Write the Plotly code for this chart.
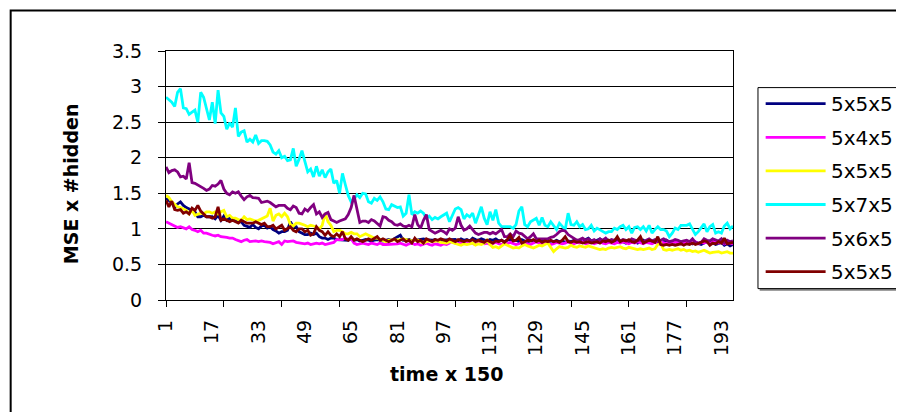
import plotly.graph_objects as go

# ---------------- data ----------------
time_steps = list(range(1, 198))
series_names = ["5x5x5", "5x4x5", "5x5x5", "5x7x5", "5x6x5", "5x5x5"]
series_colors = ["#000080", "#FF00FF", "#FFFF00", "#00FFFF", "#800080", "#800000"]

navy_555 = [
    1.43, 1.40, 1.37, 1.30, 1.35, 1.38, 1.33, 1.30, 1.28, 1.27,
    1.24, 1.17, 1.17, 1.19, 1.17, 1.17, 1.17, 1.14, 1.19, 1.12,
    1.18, 1.12, 1.15, 1.13, 1.12, 1.09, 1.10, 1.05, 1.03, 1.02,
    1.06, 1.02, 1.00, 1.04, 1.05, 1.01, 1.03, 0.99, 0.97, 0.94,
    0.96, 0.96, 0.98, 1.10, 1.03, 1.03, 0.96, 0.94, 0.92, 0.92,
    0.94, 0.92, 0.94, 0.89, 0.87, 0.87, 0.85, 0.87, 0.87, 0.85,
    0.85, 0.84, 0.85, 0.84, 0.86, 0.84, 0.85, 0.83, 0.84, 0.85,
    0.84, 0.83, 0.84, 0.85, 0.84, 0.83, 0.84, 0.85, 0.84, 0.86,
    0.88, 0.91, 0.84, 0.84, 0.85, 0.83, 0.84, 0.84, 0.85, 0.86,
    0.85, 0.84, 0.84, 0.85, 0.83, 0.84, 0.84, 0.85, 0.84,
    0.84, 0.85, 0.83, 0.86, 0.84, 0.85, 0.83, 0.87, 0.85, 0.84,
    0.86, 0.84, 0.83, 0.85, 0.84, 0.86, 0.83, 0.84, 0.82, 0.84,
    0.85, 0.83, 0.84, 0.82, 0.85, 0.83, 0.81, 0.84, 0.82, 0.83,
    0.82, 0.84, 0.83, 0.81, 0.83, 0.82, 0.84, 0.82, 0.83, 0.81,
    0.83, 0.82, 0.84, 0.82, 0.81, 0.83, 0.85, 0.87, 0.83, 0.82,
    0.84, 0.86, 0.82, 0.83, 0.81, 0.82, 0.84, 0.83, 0.81, 0.82,
    0.80, 0.82, 0.81, 0.83, 0.80, 0.82, 0.84, 0.81, 0.83, 0.80,
    0.82, 0.81, 0.79, 0.82, 0.84, 0.81, 0.80, 0.82, 0.80, 0.79,
    0.81, 0.80, 0.82, 0.79, 0.81, 0.80, 0.78, 0.80, 0.82, 0.79,
    0.80, 0.78, 0.79, 0.81, 0.77, 0.79, 0.76, 0.78,
]

magenta_545 = [
    1.10, 1.08, 1.06, 1.04, 1.02, 1.03, 1.02, 1.00, 1.03, 0.99,
    0.98, 0.96, 0.98, 0.94, 0.94, 0.92, 0.91, 0.90, 0.91, 0.89,
    0.89, 0.88, 0.87, 0.87, 0.85, 0.84, 0.82, 0.84, 0.85, 0.82,
    0.83, 0.83, 0.82, 0.83, 0.82, 0.82, 0.81, 0.79, 0.80, 0.82,
    0.78, 0.83, 0.82, 0.82, 0.83, 0.81, 0.80, 0.79, 0.79, 0.80,
    0.78, 0.79, 0.80, 0.79, 0.80, 0.78, 0.79, 0.79, 0.81, 0.85,
    0.85, 0.85, 0.87, 0.85, 0.86, 0.80, 0.78, 0.79, 0.80, 0.79,
    0.78, 0.80, 0.79, 0.78, 0.80, 0.78, 0.78, 0.78, 0.79, 0.78,
    0.79, 0.80, 0.78, 0.77, 0.79, 0.80, 0.78, 0.79, 0.77, 0.78,
    0.80, 0.78, 0.77, 0.79, 0.78, 0.77, 0.79, 0.78, 0.80,
    0.83, 0.80, 0.79, 0.81, 0.80, 0.79, 0.81, 0.80, 0.78, 0.80,
    0.81, 0.79, 0.80, 0.78, 0.80, 0.81, 0.79, 0.78, 0.80, 0.79,
    0.81, 0.80, 0.78, 0.79, 0.81, 0.80, 0.79, 0.78, 0.80, 0.82,
    0.80, 0.79, 0.81, 0.80, 0.78, 0.79, 0.81, 0.80, 0.79, 0.80,
    0.82, 0.80, 0.79, 0.81, 0.80, 0.82, 0.79, 0.80, 0.81, 0.79,
    0.80, 0.82, 0.80, 0.79, 0.81, 0.80, 0.79, 0.81, 0.80, 0.82,
    0.80, 0.79, 0.81, 0.80, 0.82, 0.80, 0.79, 0.81, 0.80, 0.79,
    0.81, 0.80, 0.82, 0.80, 0.79, 0.81, 0.80, 0.82, 0.81, 0.79,
    0.80, 0.82, 0.81, 0.80, 0.82, 0.79, 0.81, 0.80, 0.82, 0.80,
    0.85, 0.81, 0.80, 0.82, 0.79, 0.81, 0.80, 0.79,
]

yellow_555 = [
    1.47, 1.44, 1.38, 1.35, 1.31, 1.30, 1.28, 1.26, 1.21, 1.26,
    1.19, 1.21, 1.22, 1.21, 1.24, 1.24, 1.22, 1.24, 1.21, 1.24,
    1.26, 1.17, 1.19, 1.15, 1.15, 1.13, 1.12, 1.17, 1.13, 1.14,
    1.12, 1.11, 1.12, 1.14, 1.17, 1.18, 1.29, 1.11, 1.19, 1.21,
    1.17, 1.22, 1.17, 1.06, 1.04, 1.08, 1.08, 1.07, 1.05, 1.03,
    1.05, 1.04, 1.03, 1.00, 1.05, 1.22, 1.10, 1.05, 0.96, 0.98,
    0.98, 0.96, 0.93, 0.93, 0.95, 0.93, 0.93, 0.89, 0.91, 0.93,
    0.91, 0.89, 0.87, 0.87, 0.85, 0.84, 0.82, 0.84, 0.84, 0.84,
    0.84, 0.85, 0.86, 0.85, 0.84, 0.83, 0.84, 0.84, 0.82, 0.80,
    0.82, 0.83, 0.82, 0.82, 0.83, 0.81, 0.80, 0.80, 0.82,
    0.81, 0.80, 0.79, 0.77, 0.79, 0.78, 0.79, 0.80, 0.77, 0.79,
    0.78, 0.80, 0.84, 0.78, 0.74, 0.75, 0.73, 0.76, 0.79, 0.77,
    0.75, 0.73, 0.74, 0.73, 0.76, 0.78, 0.76, 0.74, 0.73, 0.75,
    0.77, 0.76, 0.78, 0.80, 0.74, 0.68, 0.72, 0.75, 0.74, 0.73,
    0.74, 0.77, 0.75, 0.74, 0.76, 0.75, 0.74, 0.76, 0.75, 0.73,
    0.72, 0.71, 0.72, 0.71, 0.73, 0.74, 0.73, 0.74, 0.75, 0.73,
    0.72, 0.74, 0.73, 0.72, 0.71, 0.72, 0.71, 0.72, 0.73, 0.71,
    0.72, 0.78, 0.80, 0.71, 0.70, 0.71, 0.70, 0.71, 0.72, 0.70,
    0.71, 0.69, 0.70, 0.68, 0.69, 0.67, 0.69, 0.70, 0.68, 0.66,
    0.67, 0.67, 0.68, 0.66, 0.67, 0.68, 0.66, 0.66,
]

cyan_575 = [
    2.85, 2.82, 2.78, 2.72, 2.92, 2.97, 2.70, 2.69, 2.61, 2.64,
    2.67, 2.50, 2.92, 2.85, 2.68, 2.53, 2.78, 2.48, 2.95, 2.63,
    2.58, 2.40, 2.49, 2.43, 2.70, 2.30, 2.36, 2.38, 2.22, 2.26,
    2.22, 2.32, 2.20, 2.24, 2.24, 2.23, 2.18, 2.08, 2.05, 2.10,
    2.00, 2.02, 1.96, 1.97, 2.13, 1.88, 1.98, 2.10, 1.95, 1.80,
    1.84, 1.73, 1.88, 1.74, 1.83, 1.72, 1.80, 1.84, 1.64, 1.68,
    1.50, 1.78, 1.62, 1.47, 1.38, 1.42, 1.48, 1.44, 1.50, 1.49,
    1.38, 1.36, 1.43, 1.40, 1.45, 1.38, 1.28, 1.27, 1.34, 1.32,
    1.30, 1.31, 1.18, 1.22, 1.48, 1.20, 1.24, 1.22, 1.25, 1.22,
    1.15, 1.18, 1.13, 1.16, 1.14, 1.17, 1.20, 1.22, 1.10,
    1.20, 1.28, 1.30, 1.27, 1.14, 1.20, 1.17, 1.22, 1.08, 1.20,
    1.31, 1.15, 1.06, 1.24, 1.12, 1.27, 1.08, 1.03, 1.03, 1.03,
    1.03, 1.01, 1.06, 1.25, 1.31, 1.06, 1.03, 1.10, 1.12, 1.15,
    1.05, 1.16, 1.05, 1.03, 1.10, 1.05, 0.99, 1.08, 1.04, 0.99,
    1.22, 1.06, 1.05, 1.10, 1.03, 1.06, 0.99, 1.00, 1.05, 0.97,
    1.01, 0.99, 0.97, 0.94, 0.96, 0.96, 1.01, 0.99, 1.03, 1.05,
    0.99, 1.03, 0.94, 1.02, 1.03, 0.99, 1.03, 0.97, 1.05, 0.94,
    0.99, 1.03, 0.99, 0.99, 0.97, 0.89, 0.94, 1.01, 0.99, 1.05,
    1.05, 1.05, 1.07, 0.99, 0.92, 0.96, 1.01, 1.07, 0.96, 1.03,
    1.06, 0.94, 0.96, 0.94, 1.04, 1.08, 1.00, 1.04,
]

purple_565 = [
    1.87, 1.79, 1.82, 1.83, 1.80, 1.73, 1.74, 1.70, 1.93, 1.65,
    1.64, 1.62, 1.60, 1.57, 1.54, 1.56, 1.61, 1.60, 1.63, 1.68,
    1.56, 1.50, 1.48, 1.52, 1.50, 1.52, 1.46, 1.41, 1.45, 1.47,
    1.44, 1.43, 1.43, 1.37, 1.38, 1.39, 1.37, 1.34, 1.31, 1.33,
    1.33, 1.33, 1.29, 1.27, 1.32, 1.30, 1.22, 1.21, 1.28, 1.25,
    1.30, 1.34, 1.21, 1.24, 1.16, 1.21, 1.23, 1.13, 1.11, 1.09,
    1.11, 1.12, 1.14, 1.20, 1.30, 1.47, 1.30, 1.09, 1.11, 1.11,
    1.09, 1.13, 1.11, 1.08, 1.04, 1.17, 1.16, 1.12, 1.10, 1.06,
    1.05, 1.07, 1.04, 1.03, 1.05, 1.03, 1.20, 1.06, 1.01, 1.12,
    1.20, 0.99, 0.96, 0.94, 0.96, 0.98, 0.96, 0.93, 1.00,
    0.98, 1.01, 1.17, 1.05, 0.98, 1.00, 1.04, 0.99, 0.94, 0.92,
    0.94, 0.95, 0.95, 0.93, 0.95, 0.93, 0.96, 0.99, 0.89, 0.89,
    0.93, 0.89, 0.97, 0.94, 0.93, 0.90, 0.86, 0.89, 0.93, 0.86,
    0.86, 0.86, 0.87, 0.86, 0.88, 0.89, 0.92, 0.96, 0.98, 0.97,
    0.92, 0.89, 0.86, 0.84, 0.85, 0.87, 0.84, 0.86, 0.83, 0.85,
    0.82, 0.86, 0.84, 0.87, 0.83, 0.85, 0.84, 0.86, 0.83, 0.85,
    0.84, 0.82, 0.86, 0.84, 0.83, 0.85, 0.82, 0.84, 0.86, 0.83,
    0.85, 0.82, 0.84, 0.86, 0.84, 0.82, 0.83, 0.85, 0.84, 0.82,
    0.83, 0.84, 0.82, 0.86, 0.81, 0.80, 0.81, 0.86, 0.84, 0.83,
    0.86, 0.85, 0.83, 0.86, 0.80, 0.84, 0.82, 0.83,
]

darkred_555 = [
    1.40, 1.31, 1.39, 1.27, 1.26, 1.27, 1.22, 1.24, 1.21, 1.29,
    1.26, 1.33, 1.25, 1.21, 1.17, 1.17, 1.15, 1.17, 1.31, 1.12,
    1.14, 1.12, 1.10, 1.12, 1.10, 1.08, 1.12, 1.10, 1.08, 1.08,
    1.08, 1.10, 1.08, 1.06, 1.08, 1.03, 1.03, 1.05, 1.00, 1.03,
    1.05, 0.98, 1.00, 1.03, 0.98, 0.96, 1.00, 1.00, 0.96, 0.98,
    0.91, 0.93, 1.03, 0.98, 0.96, 0.91, 0.96, 0.91, 0.89, 0.93,
    0.89, 0.96, 0.86, 0.84, 0.89, 0.84, 0.86, 0.84, 0.82, 0.84,
    0.86, 0.84, 0.86, 0.89, 0.84, 0.86, 0.84, 0.82, 0.84, 0.86,
    0.82, 0.84, 0.86, 0.82, 0.84, 0.80, 0.87, 0.82, 0.84, 0.80,
    0.86, 0.84, 0.82, 0.85, 0.84, 0.86, 0.84, 0.83, 0.86,
    0.84, 0.82, 0.85, 0.83, 0.82, 0.84, 0.83, 0.85, 0.82, 0.84,
    0.83, 0.81, 0.84, 0.82, 0.80, 0.83, 0.82, 0.84, 0.81, 0.85,
    0.91, 0.83, 0.84, 0.88, 0.80, 0.82, 0.84, 0.83, 0.85, 0.82,
    0.84, 0.81, 0.83, 0.82, 0.84, 0.82, 0.83, 0.81, 0.84, 0.89,
    0.82, 0.81, 0.83, 0.81, 0.82, 0.80, 0.81, 0.82, 0.80, 0.81,
    0.82, 0.80, 0.83, 0.82, 0.84, 0.81, 0.83, 0.89, 0.82, 0.84,
    0.83, 0.85, 0.82, 0.81, 0.84, 0.89, 0.80, 0.82, 0.84, 0.83,
    0.81, 0.89, 0.78, 0.77, 0.78, 0.77, 0.78, 0.77, 0.78, 0.79,
    0.77, 0.79, 0.78, 0.80, 0.78, 0.79, 0.81, 0.83, 0.82, 0.77,
    0.80, 0.79, 0.82, 0.80, 0.87, 0.79, 0.80, 0.81,
]

series_values = [navy_555, magenta_545, yellow_555, cyan_575, purple_565, darkred_555]
for s in series_values:
    assert len(s) == len(time_steps), len(s)

y_tick_vals = [0, 0.5, 1, 1.5, 2, 2.5, 3, 3.5]
y_tick_text = ["0", "0.5", "1", "1.5", "2", "2.5", "3", "3.5"]
x_tick_mark_vals = [1, 21, 41, 61, 81, 101, 121, 141, 161, 181]
x_label_vals = [1, 17, 33, 49, 65, 81, 97, 113, 129, 145, 161, 177, 193]
x_label_text = ["1", "17", "33", "49", "65", "81", "97", "113", "129", "145", "161", "177", "193"]

# ---------------- layout geometry (reference pixels) ----------------
# The page body has an 8px margin, so the figure is drawn 8px in from the
# window corner; all reference positions are shifted by that offset.
OFF = 8
W, H = 904, 412
RPL, RPR, RPT, RPB = 165.7, 733.3, 50.7, 299.7   # plot area in reference px
PL, PR, PT, PB = RPL - OFF, RPR - OFF, RPT - OFF, RPB - OFF
FONT = "DejaVu Sans"


def px(x):
    return (x - RPL) / (RPR - RPL)


def py(y):
    return (RPB - y) / (RPB - RPT)


fig = go.Figure()
for name, color, vals in zip(series_names, series_colors, series_values):
    fig.add_trace(go.Scatter(
        x=time_steps, y=vals, mode="lines", name=name,
        line=dict(color=color, width=2.8), showlegend=False,
        hoverinfo="skip",
    ))
# empty trace that carries the label axis (x2) so it gets drawn
fig.add_trace(go.Scatter(x=[time_steps[0], time_steps[-1]], y=[None, None],
                         xaxis="x2", yaxis="y", mode="lines",
                         showlegend=False, hoverinfo="skip"))

shapes = []
annotations = []

# outer chart frame
shapes.append(dict(type="rect", xref="paper", yref="paper",
                   x0=px(10.2), x1=px(960), y0=py(450), y1=py(10.2),
                   line=dict(color="black", width=2), layer="above"))

# legend box + shadow
shapes.append(dict(type="line", xref="paper", yref="paper",
                   x0=px(760), x1=px(960), y0=py(289.5), y1=py(289.5),
                   line=dict(color="#808080", width=2)))
shapes.append(dict(type="rect", xref="paper", yref="paper",
                   x0=px(758.3), x1=px(960), y0=py(288.3), y1=py(87.3),
                   line=dict(color="black", width=1), fillcolor="white"))

legend_rows = [103.3, 137.0, 170.5, 204.2, 237.8, 271.4]
for name, color, yrow in zip(series_names, series_colors, legend_rows):
    shapes.append(dict(type="line", xref="paper", yref="paper",
                       x0=px(766), x1=px(826), y0=py(yrow), y1=py(yrow),
                       line=dict(color=color, width=2.8)))
    annotations.append(dict(xref="paper", yref="paper", x=px(829), y=py(yrow + 0.5),
                            xanchor="left", yanchor="middle", showarrow=False,
                            text=name, font=dict(family=FONT, size=20, color="black")))

# axis titles
annotations.append(dict(xref="paper", yref="paper", x=px(70.5), y=py(183),
                        xanchor="center", yanchor="middle", showarrow=False,
                        textangle=-90, text="<b>MSE x #hidden</b>",
                        font=dict(family=FONT, size=19, color="black")))
annotations.append(dict(xref="paper", yref="paper", x=px(446.5), y=py(374),
                        xanchor="center", yanchor="middle", showarrow=False,
                        text="<b>time x 150</b>",
                        font=dict(family=FONT, size=19, color="black")))

fig.update_layout(
    width=W, height=H, autosize=False,
    margin=dict(l=PL, r=W - PR, t=PT, b=H - PB, pad=0),
    paper_bgcolor="white", plot_bgcolor="white",
    font=dict(family=FONT, size=19, color="black"),
    showlegend=False,
    xaxis=dict(
        range=[1, 197], tickmode="array", tickvals=x_tick_mark_vals,
        showticklabels=False, ticks="outside", ticklen=6, tickwidth=1, tickcolor="black",
        showline=True, linecolor="black", linewidth=1, mirror=True,
        showgrid=False, zeroline=False, fixedrange=True,
    ),
    xaxis2=dict(
        overlaying="x", anchor="y", side="bottom", range=[1, 197],
        tickmode="array", tickvals=x_label_vals, ticktext=x_label_text,
        tickangle=-90, ticks="", showline=False, showgrid=False, zeroline=False,
        tickfont=dict(family=FONT, size=19, color="black"),
        ticklabelstandoff=15,
    ),
    yaxis=dict(
        range=[0, 3.5], tickmode="array", tickvals=y_tick_vals, ticktext=y_tick_text,
        ticks="outside", ticklen=7, tickwidth=1, tickcolor="black",
        showline=True, linecolor="black", linewidth=1, mirror=True,
        showgrid=True, gridcolor="black", gridwidth=1, zeroline=False,
        tickfont=dict(family=FONT, size=19, color="black"),
        ticklabelstandoff=12,
    ),
    shapes=shapes,
    annotations=annotations,
)

fig.write_html("out.html")
